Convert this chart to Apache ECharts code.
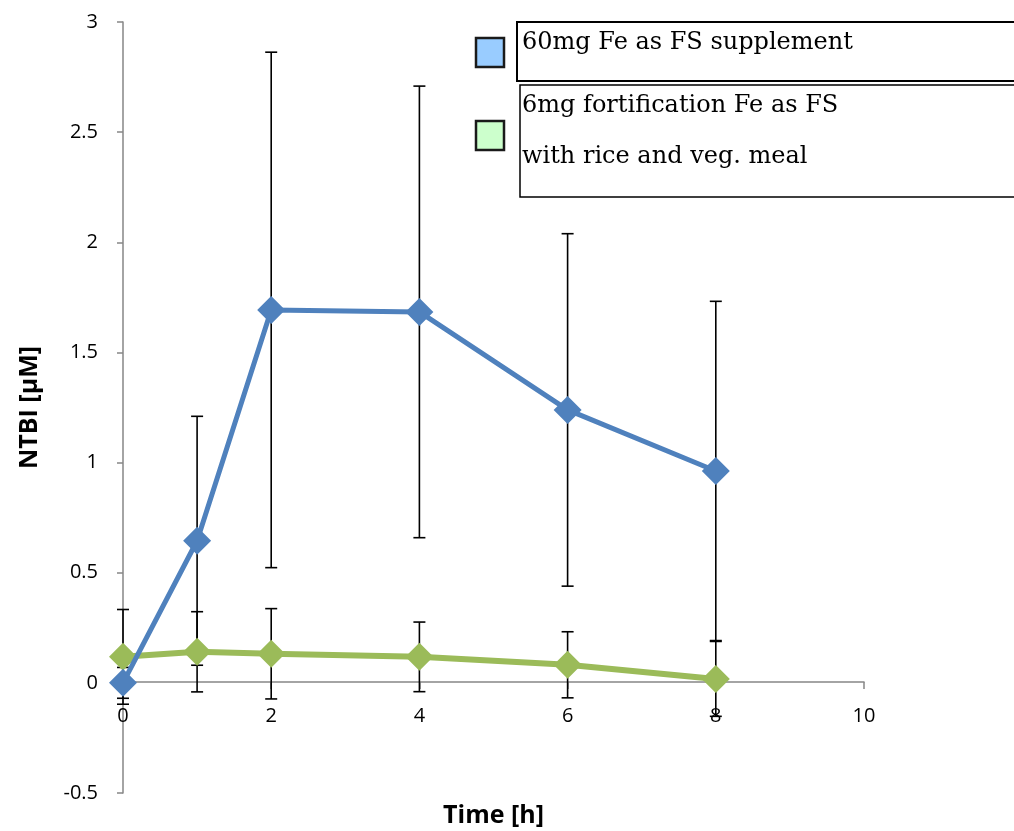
<!DOCTYPE html>
<html>
<head>
<meta charset="utf-8">
<script src="https://cdn.jsdelivr.net/npm/echarts@6/dist/echarts.min.js"></script>
<style>
html, body { margin: 0; padding: 0; background: #fff; }
#chart { width: 1014px; height: 831px; }
</style>
</head>
<body>
<div id="chart"></div>
<script>
var times = [0, 1, 2, 4, 6, 8];
var supplement = [0, 0.645, 1.693, 1.684, 1.239, 0.962];
var supplementErr = [0.07, 0.565, 1.17, 1.025, 0.8, 0.77];
var fortified = [0.118, 0.141, 0.132, 0.118, 0.082, 0.018];
var fortifiedErr = [0.215, 0.182, 0.205, 0.158, 0.15, 0.17];
var legendNames = ['60mg Fe as FS supplement', '6mg fortification Fe as FS', 'with rice and veg. meal'];

function pairs(xs, ys) {
    var out = [];
    for (var i = 0; i < xs.length; i++) out.push([xs[i], ys[i]]);
    return out;
}
function errData(xs, ys, es) {
    var out = [];
    for (var i = 0; i < xs.length; i++) out.push([xs[i], ys[i] - es[i], ys[i] + es[i]]);
    return out;
}
function renderErr(params, api) {
    var lo = api.coord([api.value(0), api.value(1)]);
    var hi = api.coord([api.value(0), api.value(2)]);
    var w = 6;
    var style = { stroke: '#000', lineWidth: 1.6 };
    return {
        type: 'group',
        children: [
            { type: 'line', shape: { x1: lo[0], y1: lo[1], x2: hi[0], y2: hi[1] }, style: style },
            { type: 'line', shape: { x1: lo[0] - w, y1: lo[1], x2: lo[0] + w, y2: lo[1] }, style: style },
            { type: 'line', shape: { x1: hi[0] - w, y1: hi[1], x2: hi[0] + w, y2: hi[1] }, style: style }
        ]
    };
}

var chart = echarts.init(document.getElementById('chart'));
var serif = "'DejaVu Serif', 'Liberation Serif', serif";
var sans = "'Open Sans', 'Liberation Sans', sans-serif";
// x axis sits on y = 0 (pixel 682), i.e. 111px above the grid bottom
chart.setOption({
    backgroundColor: '#fff',
    animation: false,
    grid: { left: 123, right: 150, top: 22, bottom: 38, containLabel: false, outerBoundsMode: 'none' },
    xAxis: {
        type: 'value',
        min: 0, max: 10, interval: 2,
        offset: -111,
        name: 'Time [h]',
        nameLocation: 'middle',
        nameGap: 134,
        nameTextStyle: { fontFamily: sans, fontWeight: 'bold', fontSize: 25, color: '#000', verticalAlign: 'middle' },
        axisLine: { onZero: false, lineStyle: { color: '#868686', width: 1.5 } },
        axisTick: { show: true, length: 7, lineStyle: { color: '#868686', width: 1.5 } },
        axisLabel: { fontFamily: sans, fontSize: 20, color: '#000', margin: 24 },
        splitLine: { show: false }
    },
    yAxis: {
        type: 'value',
        min: -0.5, max: 3, interval: 0.5,
        name: 'NTBI [µM]',
        nameLocation: 'middle',
        nameRotate: 90,
        nameGap: 81,
        nameTextStyle: { fontFamily: sans, fontWeight: 'bold', fontSize: 25, color: '#000' },
        axisLine: { show: true, onZero: false, lineStyle: { color: '#868686', width: 1.5 } },
        axisTick: { show: true, length: 6, lineStyle: { color: '#868686', width: 1.5 } },
        axisLabel: { fontFamily: sans, fontSize: 20, color: '#000', margin: 25 },
        splitLine: { show: false }
    },
    graphic: [
        { type: 'rect', shape: { x: 517, y: 22, width: 520, height: 59 }, style: { fill: '#fff', stroke: '#000', lineWidth: 2 } },
        { type: 'rect', shape: { x: 520, y: 85, width: 520, height: 112 }, style: { fill: '#fff', stroke: '#000', lineWidth: 1.5 } },
        { type: 'rect', shape: { x: 476, y: 38, width: 28, height: 29 }, style: { fill: '#99CCFF', stroke: '#1a1a1a', lineWidth: 2.5 } },
        { type: 'rect', shape: { x: 476, y: 121, width: 28, height: 29 }, style: { fill: '#CCFFCC', stroke: '#1a1a1a', lineWidth: 2.5 } },
        { type: 'text', x: 522, y: 43, style: { text: legendNames[0], font: '24px ' + serif, fill: '#000', verticalAlign: 'middle' } },
        { type: 'text', x: 522, y: 106, style: { text: legendNames[1], font: '24px ' + serif, fill: '#000', verticalAlign: 'middle' } },
        { type: 'text', x: 522, y: 157, style: { text: legendNames[2], font: '24px ' + serif, fill: '#000', verticalAlign: 'middle' } }
    ],
    series: [
        {
            type: 'custom',
            renderItem: renderErr,
            data: errData(times, fortified, fortifiedErr),
            encode: { x: 0, y: [1, 2] },
            z: 1
        },
        {
            type: 'custom',
            renderItem: renderErr,
            data: errData(times, supplement, supplementErr),
            encode: { x: 0, y: [1, 2] },
            z: 1
        },
        {
            name: legendNames[1],
            type: 'line',
            data: pairs(times, fortified),
            symbol: 'diamond',
            symbolSize: 28,
            lineStyle: { color: '#9BBB59', width: 6 },
            itemStyle: { color: '#9BBB59' },
            z: 3
        },
        {
            name: legendNames[0],
            type: 'line',
            data: pairs(times, supplement),
            symbol: 'diamond',
            symbolSize: 28,
            lineStyle: { color: '#4F81BD', width: 5 },
            itemStyle: { color: '#4F81BD' },
            z: 4
        }
    ]
});
</script>
</body>
</html>
